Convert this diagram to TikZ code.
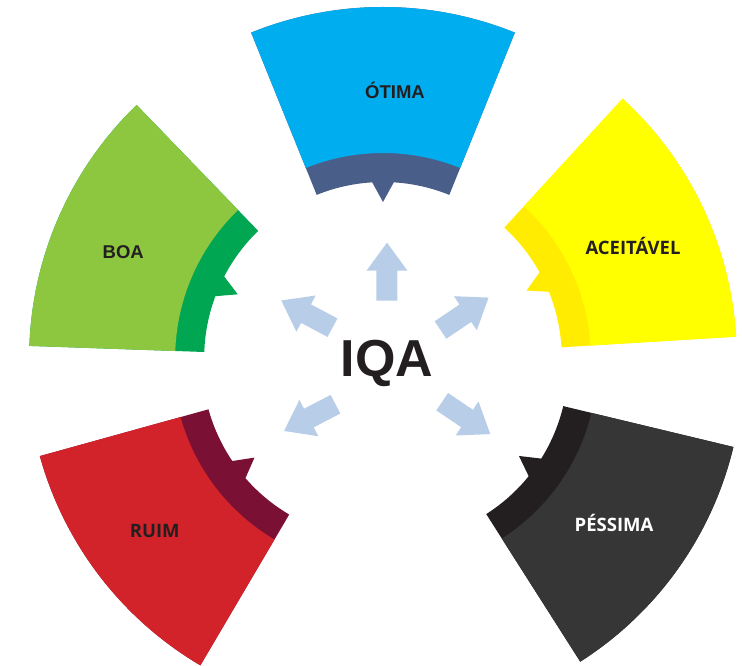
\documentclass[tikz,border=0pt]{standalone}
\usepackage{fontspec}
\setmainfont{Liberation Sans}
\newfontfamily\opensans{Open Sans}
\usepackage{xcolor}
\definecolor{mcyan}{RGB}{0,174,239}
\definecolor{mslate}{RGB}{74,94,138}
\definecolor{mlime}{RGB}{141,198,63}
\definecolor{mgreen}{RGB}{0,166,81}
\definecolor{myellow}{RGB}{255,255,0}
\definecolor{mgold}{RGB}{255,236,0}
\definecolor{mred}{RGB}{210,35,42}
\definecolor{mwine}{RGB}{122,16,52}
\definecolor{mgray}{RGB}{54,54,54}
\definecolor{mblack}{RGB}{35,31,32}
\definecolor{marrow}{RGB}{183,205,232}

% #1 mid angle, #2 radial shift, #3 light colour, #4 band colour
\newcommand{\iqasector}[4]{%
  \begin{scope}[shift={(#1:#2pt)}]
    \fill[#4] (#1-22:352pt) arc[start angle=#1-22, end angle=#1+22, radius=352pt]
      -- (#1+22:177pt) arc[start angle=#1+22, end angle=#1+3.5, radius=177pt]
      -- (#1:157pt) -- (#1-3.5:177pt)
      arc[start angle=#1-3.5, end angle=#1-22, radius=177pt] -- cycle;
    \fill[#3] (#1-22:352pt) arc[start angle=#1-22, end angle=#1+22, radius=352pt]
      -- (#1+22:206pt) arc[start angle=#1+22, end angle=#1-22, radius=206pt] -- cycle;
  \end{scope}}

\begin{document}
\begin{tikzpicture}[x=1pt,y=1pt]
  \tikzset{label text/.style={anchor=base,inner sep=0pt,text=mblack,font=\fontsize{18.5}{20}\selectfont\bfseries},
    open text/.style={label text,font=\opensans\fontsize{18.5}{20}\selectfont\bfseries}}
  \useasboundingbox (-383,-307) rectangle (359,359);

  \iqasector{90}{0}{mcyan}{mslate}
  \iqasector{156}{2}{mlime}{mgreen}
  \iqasector{25.5}{2}{myellow}{mgold}
  \iqasector{217.5}{5}{mred}{mwine}
  \iqasector{324.5}{10}{mgray}{mblack}

  \node [label text] (otima) at (12,260) {ÓTIMA};
  \node [label text] (boa) at (-259.7,100.7) {BOA};
  \node [open text] (aceitavel) at (250,104) {ACEITÁVEL};
  \node [open text] (ruim) at (-228.3,-178.7) {RUIM};
  \node [open text, text=white] (pessima) at (231,-172.7) {PÉSSIMA};

  \node [anchor=base, inner sep=0pt, text=mblack, font=\fontsize{52}{56}\selectfont\bfseries] (iqa) at (4,-17.7) {IQA};

  \foreach \x/\y/\a in {4/58.3/90, 57.5/29/34, -50.5/31.3/152, -47.5/-45.2/207.5, 59.2/-42.7/326}
    \fill[marrow, shift={(\x,\y)}, rotate=\a] (0,-10.5) -- (30,-10.5) -- (30,-20.5) -- (58,0)
      -- (30,20.5) -- (30,10.5) -- (0,10.5) -- cycle;
\end{tikzpicture}
\end{document}
